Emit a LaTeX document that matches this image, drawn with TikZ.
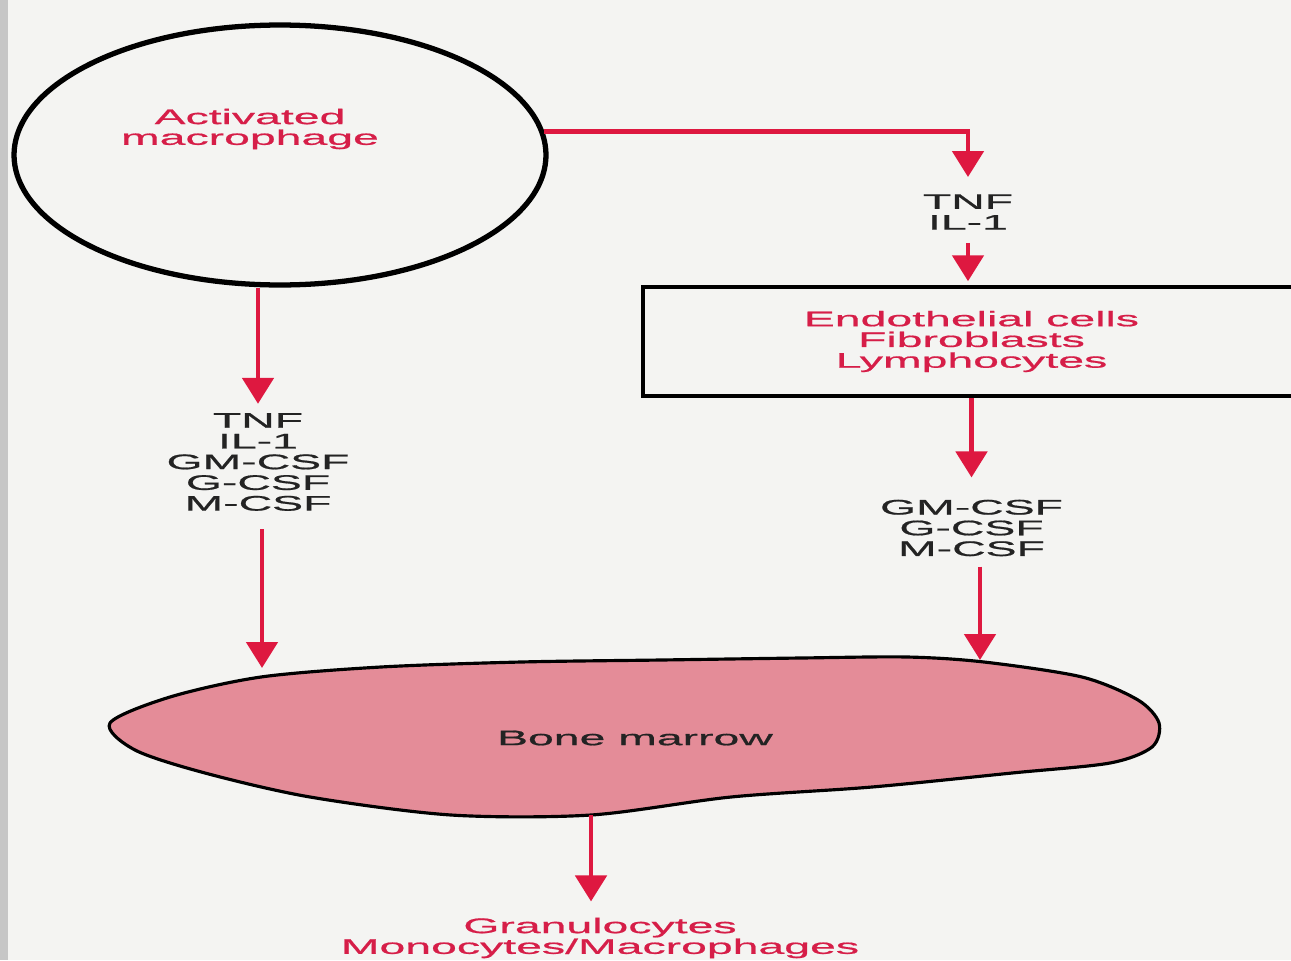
\documentclass[tikz,border=0pt]{standalone}
\usepackage{fontspec}
\newfontfamily\figfont[FakeStretch=2.2, FakeBold=0.8]{Liberation Sans}
\usepackage{tikz}
\usetikzlibrary{shapes.geometric, arrows.meta, calc, positioning}
\definecolor{scanred}{RGB}{222,24,64}
\definecolor{labelred}{RGB}{214,30,72}
\definecolor{marrowpink}{RGB}{228,140,152}
\definecolor{paper}{RGB}{244,244,242}
\definecolor{ink}{RGB}{35,35,35}
\tikzset{
  redline/.style={->, scanred, line width=2.8pt},
  cytok/.style={font=\figfont\fontsize{12}{11.8}\selectfont, text=ink, align=center, inner sep=0pt},
  redlbl/.style={cytok, text=labelred},
}

\begin{document}
\begin{tikzpicture}[x=0.02cm, y=-0.02cm, >={Triangle[width=0.62cm,length=0.52cm]}]
\clip (0,0) rectangle (1291,960);
\fill[paper] (0,0) rectangle (1291,960);
\fill[gray!45] (0,0) rectangle (8,960);

% Macrophage
\node[ellipse, draw=black, line width=3pt, minimum width=10.64cm, minimum height=5.2cm, inner sep=0pt] (mac) at (280,155) {};
\node[redlbl] (macl) at (250,129) {Activated\\macrophage};

% Right branch
\node[cytok] (tnf2) at (968,212) {TNF\\IL-1};
\node[redlbl, draw=black, line width=2pt, minimum width=13.14cm, minimum height=2.18cm] (stroma) at (971.5,341.5) {Endothelial cells\\Fibroblasts\\Lymphocytes};
\node[cytok] (csf2) at (971.5,528) {GM-CSF\\G-CSF\\M-CSF};

% Left branch
\node[cytok] (csf1) at (258,462) {TNF\\IL-1\\GM-CSF\\G-CSF\\M-CSF};

% Bone marrow
\draw[black, line width=1.8pt, fill=marrowpink] plot[smooth cycle] coordinates {
  (110,723) (170,697) (261,677) (381,667) (521,662) (661,660) (801,658)
  (907,657) (984,662) (1082,677) (1138,700) (1159,723) (1152,747)
  (1110,763) (1012,773) (872,787) (731,797) (591,815) (451,815)
  (310,797) (205,773) (135,750)};
\node[cytok] (bm) at (635,738) {Bone marrow};
\coordinate (bmL) at (262,668);
\coordinate (bmR) at (980,660);
\coordinate (bmB) at (591,815);

% Output
\node[redlbl] (prog) at (600,938) {Granulocytes\\Monocytes/Macrophages};

% Arrows
\draw[redline, shorten >=0.34cm] (mac.5) -| (tnf2.north);
\draw[redline, shorten <=0.26cm, shorten >=0.08cm] (tnf2.south) -- (tnf2.south |- stroma.north);
\draw[redline, shorten >=0.44cm] (stroma.south) -- (stroma.south |- csf2.north);
\draw[redline, shorten <=0.2cm] (csf2.south -| bmR) -- (bmR);
\draw[redline, shorten >=0.18cm] (mac.south -| csf1.north) -- (csf1.north);
\draw[redline, shorten <=0.36cm] (csf1.south -| bmL) -- (bmL);
\draw[redline, shorten >=0.32cm] (bmB) -- (bmB |- prog.north);
\end{tikzpicture}
\end{document}
